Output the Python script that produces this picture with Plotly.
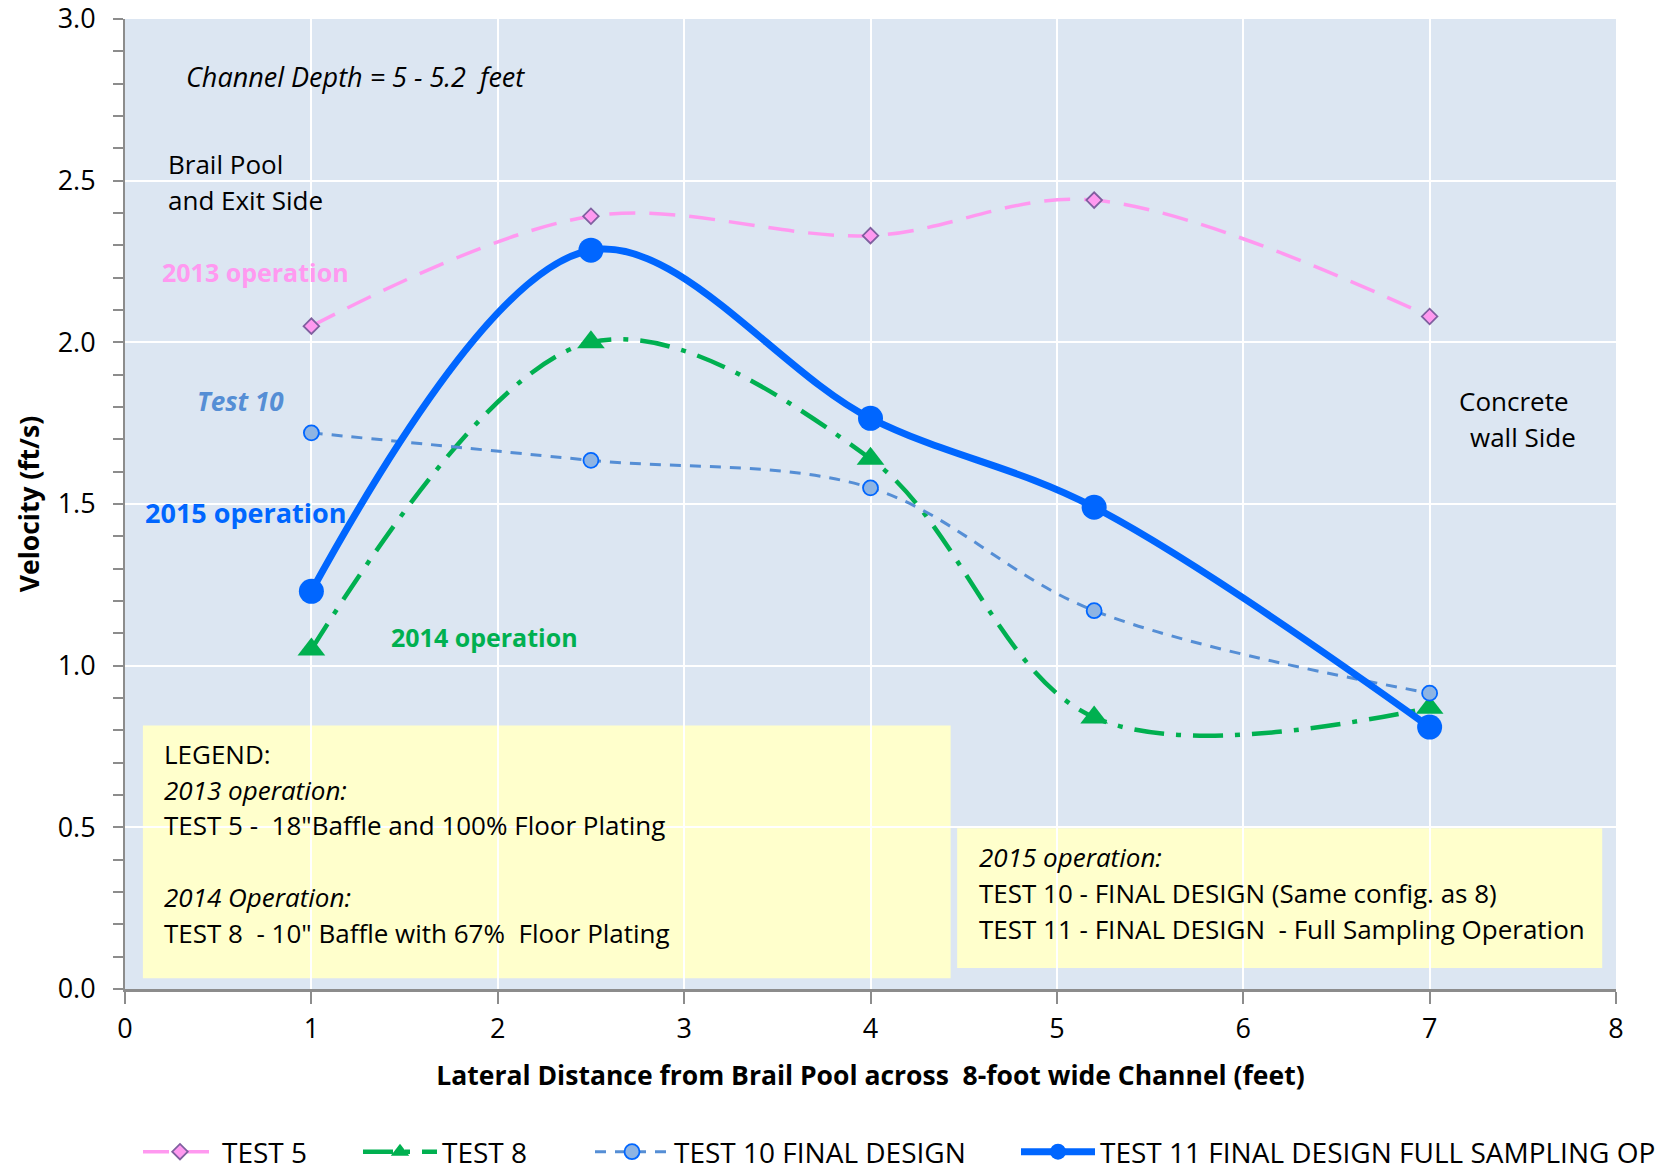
import plotly.graph_objects as go

x_pos = [1, 2.5, 4, 5.2, 7]
test5 = [2.05, 2.39, 2.33, 2.44, 2.08]
test8 = [1.05, 2.00, 1.64, 0.84, 0.87]
test10 = [1.72, 1.635, 1.55, 1.17, 0.915]
test11 = [1.23, 2.285, 1.765, 1.49, 0.81]

x_ticks = [0, 1, 2, 3, 4, 5, 6, 7, 8]
y_ticks = [0.0, 0.5, 1.0, 1.5, 2.0, 2.5, 3.0]

legend_box1_lines = ["LEGEND:", "<i>2013 operation:</i>",
                     "TEST 5 -  18\"Baffle and 100% Floor Plating",
                     "<i>2014 Operation:</i>",
                     "TEST 8  - 10\" Baffle with 67%  Floor Plating"]
legend_box1_y = [0.726, 0.615, 0.507, 0.285, 0.173]
legend_box2_lines = ["<i>2015 operation:</i>",
                     "TEST 10 - FINAL DESIGN (Same config. as 8)",
                     "TEST 11 - FINAL DESIGN  - Full Sampling Operation"]
legend_box2_y = [0.409, 0.298, 0.186]

FONT = "Open Sans"
W, H = 1658, 1170

fig = go.Figure()
fig.add_trace(go.Scatter(
    x=x_pos, y=test5, name="TEST 5", mode="lines+markers", legend="legend",
    line=dict(color="#FF99F0", width=3.5, dash="26px,14px", shape="spline", smoothing=1),
    marker=dict(symbol="diamond", size=12, color="#FF99F0", line=dict(color="#7F5F9F", width=1.8))))
fig.add_trace(go.Scatter(
    x=x_pos, y=test8, name="TEST 8", mode="lines+markers", legend="legend2",
    line=dict(color="#00B050", width=4.5, dash="30px,12px,5px,12px", shape="spline", smoothing=1),
    marker=dict(symbol="triangle-up", size=24, color="#00B050")))
fig.add_trace(go.Scatter(
    x=x_pos, y=test10, name="TEST 10 FINAL DESIGN", mode="lines+markers", legend="legend3",
    line=dict(color="#558ED5", width=3, dash="11px,9px", shape="spline", smoothing=1),
    marker=dict(symbol="circle", size=15, color="#8EB4E3", line=dict(color="#0066FF", width=1.8))))
fig.add_trace(go.Scatter(
    x=x_pos, y=test11, name="TEST 11 FINAL DESIGN FULL SAMPLING OP", mode="lines+markers", legend="legend4",
    line=dict(color="#0066FF", width=7, shape="spline", smoothing=1),
    marker=dict(symbol="circle", size=25, color="#0066FF")))

# yellow legend boxes
fig.add_shape(type="rect", x0=0.096, x1=4.43, y0=0.033, y1=0.815, xref="x", yref="y",
              fillcolor="#FFFFCC", line=dict(width=0), layer="below")
fig.add_shape(type="rect", x0=4.465, x1=7.926, y0=0.065, y1=0.497, xref="x", yref="y",
              fillcolor="#FFFFCC", line=dict(width=0), layer="below")

def ann(text, x, y, size=26, color="black"):
    fig.add_annotation(x=x, y=y, xref="x", yref="y", text=text, showarrow=False,
                       xanchor="left", yanchor="middle", align="left",
                       font=dict(family=FONT, size=size, color=color))

ann("<i>Channel Depth = 5 - 5.2  feet</i>", 0.315, 2.823, size=27)
ann("Brail Pool", 0.221, 2.552)
ann("and Exit Side", 0.221, 2.440)
ann("<b>2013 operation</b>", 0.187, 2.218, size=25, color="#FF99F0")
ann("<b><i>Test 10</i></b>", 0.374, 1.819, size=26, color="#558ED5")
ann("<b>2015 operation</b>", 0.096, 1.475, size=27, color="#0066FF")
ann("<b>2014 operation</b>", 1.418, 1.089, size=25, color="#00B050")
ann("Concrete", 7.149, 1.819)
ann("wall Side", 7.206, 1.708)

for txt, yv in zip(legend_box1_lines, legend_box1_y):
    ann(txt, 0.199, yv)
for txt, yv in zip(legend_box2_lines, legend_box2_y):
    ann(txt, 4.573, yv)

def leg(xpx):
    return dict(orientation="h", xref="container", yref="container",
                x=xpx / W, xanchor="left", y=1 - 1152 / H, yanchor="middle",
                font=dict(family=FONT, size=28), itemwidth=74,
                bgcolor="rgba(0,0,0,0)", borderwidth=0)

fig.update_layout(
    width=W, height=H,
    margin=dict(l=125, r=42, t=19, b=181, autoexpand=False),
    paper_bgcolor="white", plot_bgcolor="#DCE6F2",
    font=dict(family=FONT, size=26, color="black"),
    showlegend=True,
    legend=leg(138), legend2=leg(358), legend3=leg(590), legend4=leg(1016),
    xaxis=dict(range=[0, 8], tickvals=x_ticks, showgrid=True, gridcolor="white", gridwidth=2,
               zeroline=False, showline=True, linecolor="#8C8C8C", linewidth=3,
               ticks="outside", ticklen=12, tickcolor="#8C8C8C", tickwidth=1.5,
               tickfont=dict(size=27), ticklabelstandoff=2, automargin=False,
               ticklabeloverflow="allow",
               title=dict(text="<b>Lateral Distance from Brail Pool across  8-foot wide Channel (feet)</b>",
                          font=dict(size=26.5), standoff=22)),
    yaxis=dict(range=[0, 3], tickvals=y_ticks, tickformat=".1f", showgrid=True, gridcolor="white",
               gridwidth=2, zeroline=False, showline=True, linecolor="#8C8C8C", linewidth=2,
               ticks="outside", ticklen=10, tickcolor="#8C8C8C", tickwidth=1.5,
               minor=dict(dtick=0.1, ticks="outside", ticklen=10, tickcolor="#8C8C8C", showgrid=False),
               tickfont=dict(size=27), ticklabelstandoff=12, automargin=False,
               ticklabeloverflow="allow",
               title=dict(text="<b>Velocity (ft/s)</b>", font=dict(size=26.5), standoff=10)),
)

fig.write_html("out.html", config={"displayModeBar": False},
               post_script=["document.body.style.margin='0';document.body.style.overflow='hidden';"])
